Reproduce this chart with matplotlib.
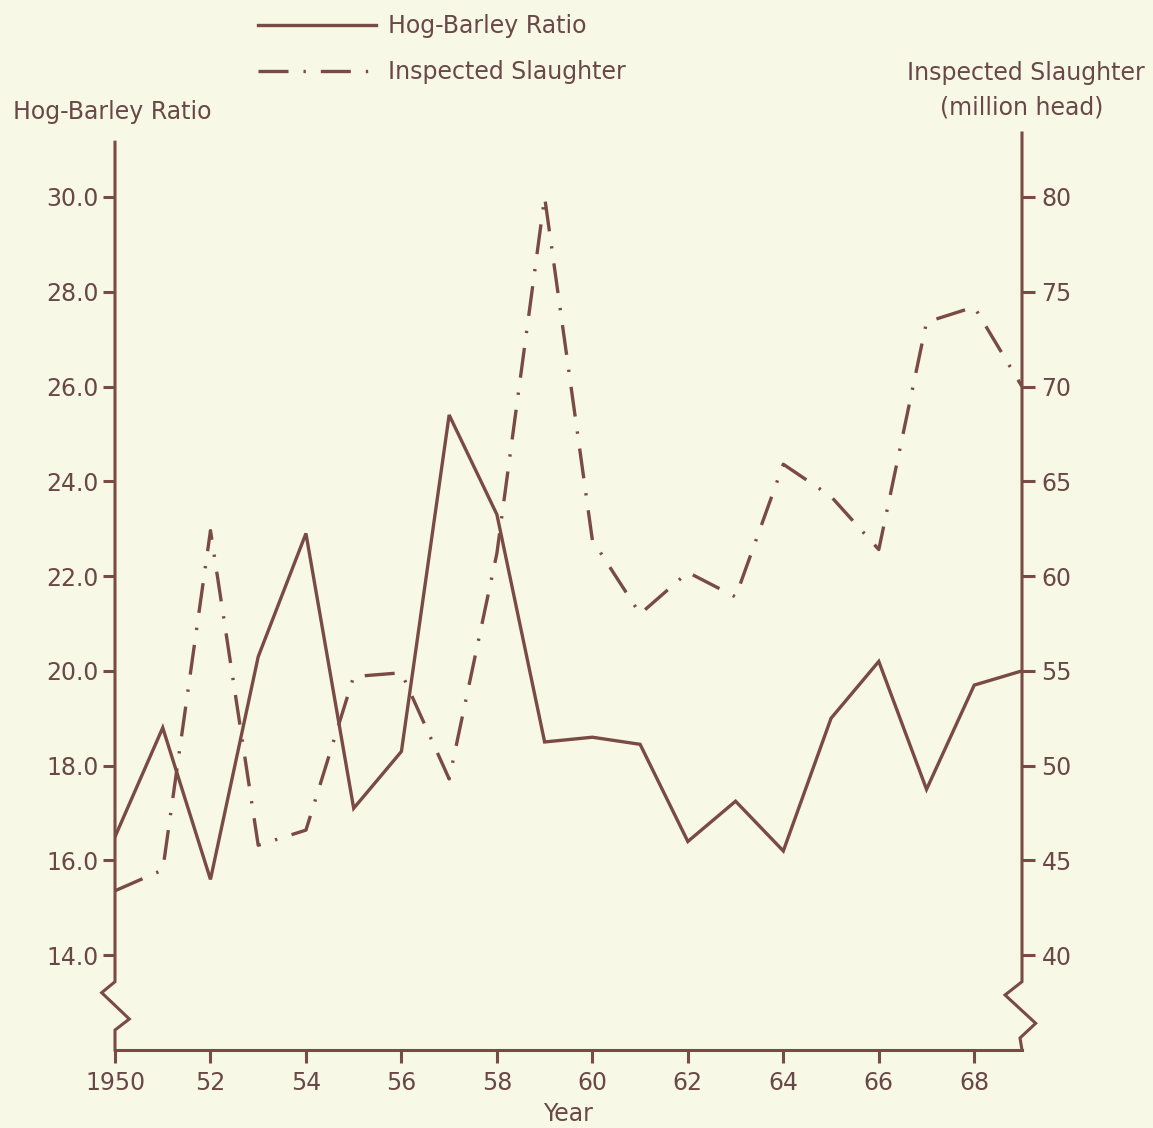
import numpy as np
import matplotlib
matplotlib.use('Agg')
import matplotlib.pyplot as plt
from matplotlib.lines import Line2D

# data
years = list(range(1950, 1970))
hog_barley = [16.5, 18.8, 15.6, 20.3, 22.9, 17.1, 18.3, 25.4, 23.3, 18.5,
              18.6, 18.45, 16.4, 17.25, 16.2, 19.0, 20.2, 17.5, 19.7, 20.0]
slaughter = [43.4, 44.5, 62.4, 45.8, 46.6, 54.7, 54.9, 49.3, 61.2, 80.0,
             61.9, 58.0, 60.2, 58.9, 65.9, 64.2, 61.4, 73.4, 74.2, 70.0]
xtick_vals = list(range(1950, 1969, 2))
xtick_labels = ['1950', '52', '54', '56', '58', '60', '62', '64', '66', '68']
left_ticks = np.arange(14, 31, 2)
right_ticks = np.arange(40, 81, 5)

bg = '#f7f8e6'
ink = '#7a4a45'
txt = '#6b4848'

plt.rcParams['font.family'] = ['DejaVu Sans']
plt.rcParams['font.size'] = 17

fig = plt.figure(figsize=(11.53, 11.28), dpi=100, facecolor=bg)
ax = fig.add_axes([115 / 1153, 78 / 1128, 907 / 1153, 917 / 1128])
ax.set_facecolor(bg)
ax2 = ax.twinx()

# left axis 12..31.35, right axis linked: r = 40 + (l - 14) * 2.5
ax.set_xlim(1950, 1969)
ax.set_ylim(12, 31.35)
ax2.set_ylim(35, 83.375)

lw = 2.4
l1, = ax.plot(years, hog_barley, color=ink, lw=lw, solid_joinstyle='miter')
l2, = ax2.plot(years, slaughter, color=ink, lw=lw,
               linestyle=(0, (9, 4.5, 0.7, 4.5)))

for a in (ax, ax2):
    for s in a.spines.values():
        s.set_visible(False)
ax.spines['bottom'].set_visible(True)
ax.spines['bottom'].set_color(ink)
ax.spines['bottom'].set_linewidth(2.2)

# broken axis spines with the zigzag
left_x = [0, 0, -0.0147, 0.0158, 0, 0]
left_y = [0.99, 0.0745, 0.0625, 0.0338, 0.0218, 0]
right_x = [1, 1, 0.9813, 1.0151, 0.9978, 1]
right_y = [1, 0.0745, 0.060, 0.0291, 0.0131, 0]
for xs, ys in ((left_x, left_y), (right_x, right_y)):
    ax.add_line(Line2D(xs, ys, transform=ax.transAxes, color=ink, lw=2.2,
                       clip_on=False, solid_joinstyle='miter'))

ax.set_xticks(xtick_vals)
ax.set_xticklabels(xtick_labels)
ax.set_yticks(left_ticks)
ax.set_yticklabels(['%.1f' % v for v in left_ticks])
ax2.set_yticks(right_ticks)
ax2.set_yticklabels([str(v) for v in right_ticks])

ax.tick_params(axis='x', direction='out', length=9, width=2.2, color=ink,
               labelcolor=txt, labelsize=17, pad=6)
ax.tick_params(axis='y', direction='out', length=9, width=2.2, color=ink,
               labelcolor=txt, labelsize=17, pad=3)
ax2.tick_params(axis='y', direction='out', length=9, width=2.2, color=ink,
                labelcolor=txt, labelsize=17, pad=5)

ax.set_xlabel('Year', color=txt, fontsize=17, labelpad=5)

fig.text(13 / 1153, 1 - 112 / 1128, 'Hog-Barley Ratio', color=txt,
         fontsize=17, ha='left', va='center')
fig.text(1026 / 1153, 1 - 73 / 1128, 'Inspected Slaughter', color=txt,
         fontsize=17, ha='center', va='center')
fig.text(1022 / 1153, 1 - 108 / 1128, '(million head)', color=txt,
         fontsize=17, ha='center', va='center')

fig.legend([l1, l2], ['Hog-Barley Ratio', 'Inspected Slaughter'],
           loc='upper left', bbox_to_anchor=(258 / 1153, 1 - 14 / 1128),
           frameon=False, borderpad=0, borderaxespad=0, handlelength=5.0,
           handletextpad=0.5, labelspacing=0.95, labelcolor=txt, fontsize=17)

fig.savefig('out.png', dpi=100, facecolor=bg)
